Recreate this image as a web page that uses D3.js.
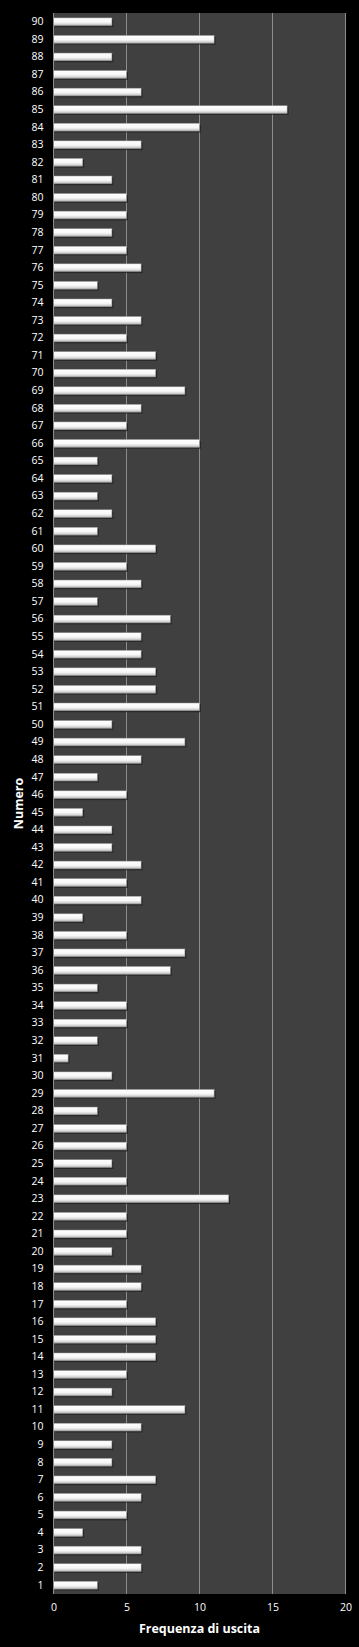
<!DOCTYPE html>
<html>
<head>
<meta charset="utf-8">
<script src="https://cdn.jsdelivr.net/npm/d3@7"></script>
<style>
  html, body { margin: 0; padding: 0; background: #000; }
  svg { display: block; }
</style>
</head>
<body>
<svg class="chart" width="359" height="1647"></svg>
<script>
// numbers 1..90 and how many times each came out
const numeri = d3.range(1, 91);
const frequenze = [
  3, 6, 6, 2, 5, 6, 7, 4, 4, 6,
  9, 4, 5, 7, 7, 7, 5, 6, 6, 4,
  5, 5, 12, 5, 4, 5, 5, 3, 11, 4,
  1, 3, 5, 5, 3, 8, 9, 5, 2, 6,
  5, 6, 4, 4, 2, 5, 3, 6, 9, 4,
  10, 7, 7, 6, 6, 8, 3, 6, 5, 7,
  3, 4, 3, 4, 3, 10, 5, 6, 9, 7,
  7, 5, 6, 4, 3, 6, 5, 4, 5, 5,
  4, 2, 6, 10, 16, 6, 5, 4, 11, 4
];
const xTicks = [0, 5, 10, 15, 20];

const data = numeri.map((n, i) => ({ numero: n, freq: frequenze[i] }));

const svg = d3.select('.chart');
const width = +svg.attr('width');
const height = +svg.attr('height');

const margin = { top: 13, right: 13.5, bottom: 53, left: 53.5 };
const innerWidth = width - margin.left - margin.right;
const innerHeight = height - margin.top - margin.bottom;

const xScale = d3.scaleLinear()
  .domain([0, 20])
  .range([0, innerWidth]);

const yScale = d3.scaleBand()
  .domain(numeri.slice().reverse())
  .range([0, innerHeight])
  .paddingInner(0.56)
  .paddingOuter(0.28);

// bar gradient: white top, grey lower edge
const defs = svg.append('defs');
const grad = defs.append('linearGradient')
  .attr('id', 'barGrad')
  .attr('x1', 0).attr('y1', 0).attr('x2', 0).attr('y2', 1);
grad.append('stop').attr('offset', '0%').attr('stop-color', '#ffffff');
grad.append('stop').attr('offset', '55%').attr('stop-color', '#f7f7f7');
grad.append('stop').attr('offset', '80%').attr('stop-color', '#d8d8d8');
grad.append('stop').attr('offset', '100%').attr('stop-color', '#a8a8a8');

const g = svg.append('g')
  .attr('transform', `translate(${margin.left},${margin.top})`);

g.append('rect')
  .attr('width', innerWidth)
  .attr('height', innerHeight)
  .attr('fill', '#404040');

// vertical gridlines
g.selectAll('.grid')
  .data(xTicks.filter(d => d > 0))
  .enter().append('line')
  .attr('class', 'grid')
  .attr('x1', d => xScale(d)).attr('x2', d => xScale(d))
  .attr('y1', 0).attr('y2', innerHeight)
  .attr('stroke', '#8c8c8c')
  .attr('stroke-width', 1);

// shadows
g.selectAll('.shadow')
  .data(data)
  .enter().append('rect')
  .attr('class', 'shadow')
  .attr('x', 1.5)
  .attr('y', d => yScale(d.numero) + 1.5)
  .attr('width', d => xScale(d.freq))
  .attr('height', yScale.bandwidth())
  .attr('fill', '#1e1e1e')
  .attr('opacity', 0.7);

// bars
g.selectAll('.bar')
  .data(data)
  .enter().append('rect')
  .attr('class', 'bar')
  .attr('x', 0)
  .attr('y', d => yScale(d.numero))
  .attr('width', d => xScale(d.freq))
  .attr('height', yScale.bandwidth())
  .attr('fill', 'url(#barGrad)')
  .attr('stroke', '#9a9a9a')
  .attr('stroke-width', 0.5);

// left axis line
g.append('line')
  .attr('x1', 0).attr('x2', 0)
  .attr('y1', 0).attr('y2', innerHeight)
  .attr('stroke', '#8c8c8c');

// y labels
const yAxis = d3.axisLeft(yScale).tickSize(0).tickPadding(10);
const yG = g.append('g').call(yAxis);
yG.select('.domain').remove();
yG.selectAll('text')
  .attr('fill', '#fff')
  .style('font-family', '"Open Sans", sans-serif')
  .style('font-size', '10.5px');

// x labels
const xAxis = d3.axisBottom(xScale).tickValues(xTicks).tickSize(0).tickPadding(10);
const xG = g.append('g')
  .attr('transform', `translate(0,${innerHeight})`)
  .call(xAxis);
xG.select('.domain').remove();
xG.selectAll('text')
  .attr('fill', '#fff')
  .style('font-family', '"Open Sans", sans-serif')
  .style('font-size', '10.5px');

// axis titles
svg.append('text')
  .attr('x', margin.left + innerWidth / 2)
  .attr('y', 1633)
  .attr('text-anchor', 'middle')
  .attr('fill', '#fff')
  .style('font-family', '"Open Sans", sans-serif')
  .style('font-weight', 'bold')
  .style('font-size', '12.5px')
  .text('Frequenza di uscita');

svg.append('text')
  .attr('transform', `translate(23,${margin.top + innerHeight / 2}) rotate(-90)`)
  .attr('text-anchor', 'middle')
  .attr('fill', '#fff')
  .style('font-family', '"Open Sans", sans-serif')
  .style('font-weight', 'bold')
  .style('font-size', '12.5px')
  .text('Numero');
</script>
</body>
</html>
